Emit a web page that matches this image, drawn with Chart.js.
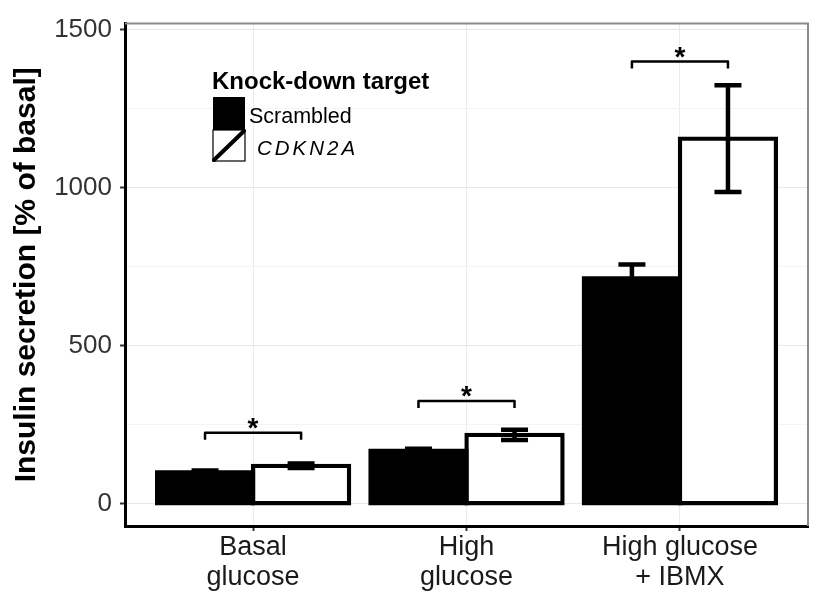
<!DOCTYPE html>
<html>
<head>
<meta charset="utf-8">
<script src="https://cdn.jsdelivr.net/npm/chart.js@4/dist/chart.umd.min.js"></script>
<style>
  html, body { margin: 0; padding: 0; background: #fff; }
  #wrap { width: 817px; height: 599px; }
</style>
</head>
<body>
<div id="wrap"><canvas id="chart" width="817" height="599"></canvas></div>
<script>
// data
const categories = [['Basal', 'glucose'], ['High', 'glucose'], ['High glucose', '+ IBMX']];
const seriesNames = ['Scrambled', 'CDKN2A'];
const scrambled = [100, 168, 714];
const scrambledErr = [5, 6, 43];
const cdkn2a = [120, 218, 1156];
const cdkn2aErr = [7, 16, 169];
const sigBracket = [225, 325, 1400];
const yTicks = [0, 500, 1000, 1500];
const yMinorTicks = [250, 750, 1250];

const FONT = "'Liberation Sans', Arial, sans-serif";

const extras = {
    id: 'extras',
    afterDatasetsDraw(chart) {
        const ctx = chart.ctx;
        const y = chart.scales.y;
        // error bars
        chart.data.datasets.forEach(function (ds, d) {
            chart.getDatasetMeta(d).data.forEach(function (bar, i) {
                const v = ds.data[i].y;
                const top = y.getPixelForValue(v + ds.errors[i]);
                const bot = y.getPixelForValue(v - ds.errors[i]);
                ctx.save();
                ctx.strokeStyle = '#000';
                ctx.lineWidth = 4.5;
                ctx.beginPath();
                ctx.moveTo(bar.x, top);
                ctx.lineTo(bar.x, bot);
                ctx.moveTo(bar.x - 13.5, top);
                ctx.lineTo(bar.x + 13.5, top);
                ctx.moveTo(bar.x - 13.5, bot);
                ctx.lineTo(bar.x + 13.5, bot);
                ctx.stroke();
                ctx.restore();
            });
        });
        // significance brackets
        const m0 = chart.getDatasetMeta(0).data;
        const m1 = chart.getDatasetMeta(1).data;
        sigBracket.forEach(function (v, i) {
            const xl = m0[i].x, xr = m1[i].x;
            const py = y.getPixelForValue(v);
            ctx.save();
            ctx.strokeStyle = '#000';
            ctx.lineWidth = 2.5;
            ctx.lineJoin = 'round';
            ctx.beginPath();
            ctx.moveTo(xl, py + 7);
            ctx.lineTo(xl, py);
            ctx.lineTo(xr, py);
            ctx.lineTo(xr, py + 7);
            ctx.stroke();
            ctx.fillStyle = '#000';
            ctx.font = 'bold 28px ' + FONT;
            ctx.textAlign = 'center';
            ctx.textBaseline = 'alphabetic';
            ctx.fillText('*', (xl + xr) / 2, py + 4);
            ctx.restore();
        });
    },
    afterDraw(chart) {
        const ctx = chart.ctx;
        const a = chart.chartArea;
        ctx.save();
        // top / right panel border
        ctx.strokeStyle = '#8a8a8a';
        ctx.lineWidth = 2;
        ctx.beginPath();
        ctx.moveTo(a.left, a.top);
        ctx.lineTo(a.right, a.top);
        ctx.lineTo(a.right, a.bottom);
        ctx.stroke();

        // y axis title
        ctx.fillStyle = '#000';
        ctx.font = 'bold 30px ' + FONT;
        ctx.textAlign = 'center';
        ctx.textBaseline = 'alphabetic';
        ctx.translate(35, (a.top + a.bottom) / 2);
        ctx.rotate(-Math.PI / 2);
        ctx.fillText('Insulin secretion [% of basal]', 0, 0);
        ctx.restore();

        // legend
        ctx.save();
        ctx.fillStyle = '#000';
        ctx.font = 'bold 24px ' + FONT;
        ctx.textBaseline = 'alphabetic';
        ctx.fillText('Knock-down target', 212, 89);
        ctx.fillRect(213, 97, 32, 33);
        ctx.fillStyle = '#fff';
        ctx.fillRect(213, 130, 32, 31);
        ctx.strokeStyle = '#000';
        ctx.lineWidth = 1.2;
        ctx.strokeRect(213, 130, 32, 31);
        ctx.lineWidth = 4;
        ctx.lineCap = 'round';
        ctx.beginPath();
        ctx.moveTo(214, 160);
        ctx.lineTo(244, 131);
        ctx.stroke();
        ctx.fillStyle = '#000';
        ctx.font = '21.5px ' + FONT;
        ctx.fillText(seriesNames[0], 249, 123);
        ctx.font = 'italic 20.5px ' + FONT;
        ctx.letterSpacing = '3px';
        ctx.fillText(seriesNames[1], 257, 155);
        ctx.restore();
    }
};

const ctx = document.getElementById('chart').getContext('2d');
new Chart(ctx, {
    type: 'bar',
    data: {
        datasets: [{
            label: seriesNames[0],
            data: scrambled.map((v, i) => ({ x: i, y: v })),
            errors: scrambledErr,
            backgroundColor: '#000',
            borderWidth: 0,
            inflateAmount: 2
        }, {
            label: seriesNames[1],
            data: cdkn2a.map((v, i) => ({ x: i, y: v })),
            errors: cdkn2aErr,
            backgroundColor: '#fff',
            borderColor: '#000',
            borderWidth: 4.3,
            borderSkipped: false,
            inflateAmount: 2.15
        }]
    },
    options: {
        responsive: false,
        animation: false,
        categoryPercentage: 0.9,
        barPercentage: 1,
        layout: { padding: { left: 0, right: 9, top: 15, bottom: 0 } },
        plugins: {
            legend: { display: false },
            tooltip: { enabled: false }
        },
        scales: {
            x: {
                type: 'linear',
                min: -0.6,
                max: 2.6,
                offset: false,
                afterBuildTicks: function (scale) {
                    scale.ticks = categories.map((c, i) => ({ value: i }));
                },
                afterFit: function (scale) { scale.height = 73; },
                ticks: {
                    callback: function (v) { return categories[v]; },
                    color: '#1a1a1a',
                    font: { family: FONT, size: 27, lineHeight: 30 / 27 },
                    padding: 2,
                    maxRotation: 0,
                    autoSkip: false
                },
                grid: {
                    offset: false,
                    color: '#ebebeb',
                    lineWidth: 1,
                    tickLength: 5,
                    tickColor: '#333',
                    tickWidth: 2
                },
                border: { color: '#000', width: 3 }
            },
            y: {
                min: -70.5,
                max: 1520,
                afterBuildTicks: function (scale) {
                    scale.ticks = yTicks.concat(yMinorTicks).sort((p, q) => p - q).map(v => ({ value: v }));
                },
                afterFit: function (scale) { scale.width = 125; },
                ticks: {
                    callback: function (v) { return yTicks.includes(v) ? String(v) : ''; },
                    color: '#333',
                    font: { family: FONT, size: 26 },
                    padding: 8
                },
                grid: {
                    color: function (c) { return yTicks.includes(c.tick.value) ? '#e8e8e8' : '#f4f4f4'; },
                    lineWidth: 1,
                    tickLength: 5,
                    tickColor: function (c) { return yTicks.includes(c.tick.value) ? '#333' : 'rgba(0,0,0,0)'; },
                    tickWidth: 2
                },
                border: { color: '#000', width: 3 }
            }
        }
    },
    plugins: [extras]
});
</script>
</body>
</html>
